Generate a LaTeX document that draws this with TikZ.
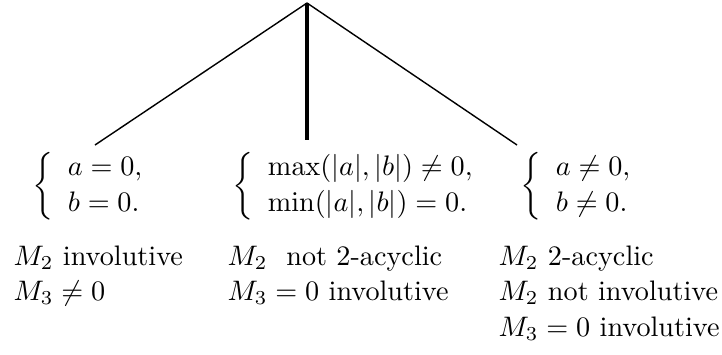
\documentclass[tikz,border=0pt]{standalone}
\usepackage{amsmath}
\usetikzlibrary{positioning}

\begin{document}
\begin{tikzpicture}[x=0.3546pt,y=-0.3546pt,
    branch/.style={line width=0.5pt},
    trunk/.style={line width=1.6pt},
    system/.style={inner sep=0pt,anchor=west},
    verdict/.style={inner sep=0pt,anchor=base west}]
  \useasboundingbox (0,0) rectangle (722,354);
  \renewcommand{\arraystretch}{1.08}

  % ---- Tree ----------------------------------------------------
  \coordinate (root)  at (307,3);
  \coordinate (leftend)  at (95,145);
  \coordinate (midend)   at (307,140);
  \coordinate (rightend) at (517,145);
  \draw[branch] (root) -- (leftend);
  \draw[trunk]  (root) -- (midend);
  \draw[branch] (root) -- (rightend);

  % ---- Cases ---------------------------------------------------
  \node[system] (zerocase) at (32,186)
    {$\left\{\begin{array}{l} a=0,\\ b=0.\end{array}\right.$};
  \node[system] (mixcase) at (232,186)
    {$\left\{\begin{array}{l} \max(|a|,|b|)\neq 0,\\ \min(|a|,|b|)=0.\end{array}\right.$};
  \node[system] (bothcase) at (520,186)
    {$\left\{\begin{array}{l} a\neq 0,\\ b\neq 0.\end{array}\right.$};

  % ---- Conclusions ---------------------------------------------
  \renewcommand{\arraystretch}{1.05}
  \node[verdict] (zerotext) at (13,265)
    {\begin{tabular}[t]{@{}l@{}} $M_2$ involutive\\ $M_3\neq 0$\end{tabular}};
  \node[verdict] (mixtext) at (227,265)
    {\begin{tabular}[t]{@{}l@{}} $M_2$\ \ not 2-acyclic\\ $M_3=0$ involutive\end{tabular}};
  \node[verdict] (bothtext) at (498,265)
    {\begin{tabular}[t]{@{}l@{}} $M_2$ 2-acyclic\\ $M_2$ not involutive\\ $M_3=0$ involutive\end{tabular}};

\end{tikzpicture}
\end{document}
